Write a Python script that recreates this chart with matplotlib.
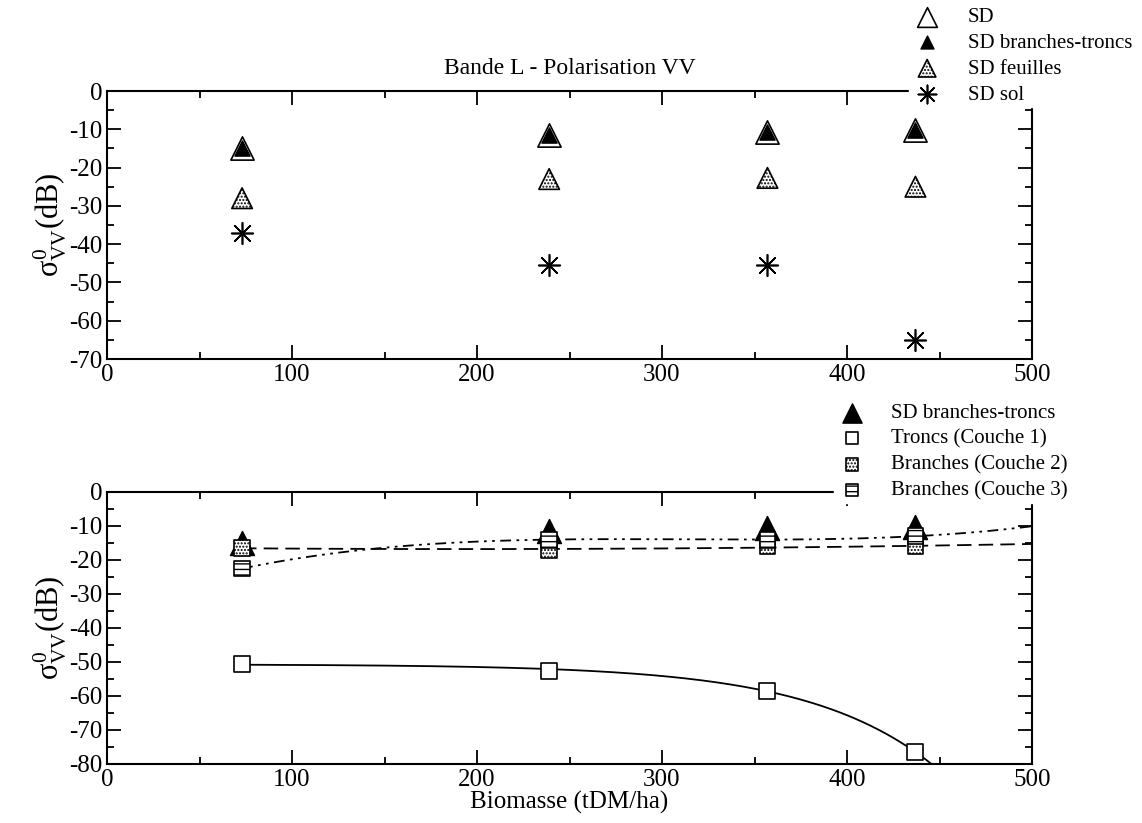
import numpy as np
import matplotlib
matplotlib.use('Agg')
import matplotlib.pyplot as plt
from matplotlib.ticker import MultipleLocator

plt.rcParams['font.family'] = 'Liberation Serif'
plt.rcParams['mathtext.fontset'] = 'custom'
plt.rcParams['mathtext.rm'] = 'Liberation Serif'
plt.rcParams['mathtext.it'] = 'Liberation Serif'
plt.rcParams['axes.unicode_minus'] = False
plt.rcParams['hatch.linewidth'] = 1.0

####################################################################################################
# data

biomasse = [73, 239, 357, 437]

sd_total = [-15.0, -11.5, -10.7, -10.2]
sd_branches_troncs = [-15.0, -11.5, -10.7, -10.2]
sd_feuilles = [-28.0, -23.0, -22.7, -25.0]
sd_sol = [-37.0, -45.5, -45.5, -65.0]

troncs_c1 = [-50.5, -52.5, -58.5, -76.5]
branches_c2 = [-16.5, -17.0, -16.0, -16.0]
branches_c3 = [-22.5, -14.0, -14.0, -13.0]

####################################################################################################

W, H = 1142, 823
fig = plt.figure(figsize=(W / 100, H / 100), dpi=100)

def box(x0, x1, y0, y1):
    return [x0 / W, 1 - y1 / H, (x1 - x0) / W, (y1 - y0) / H]

ax1 = fig.add_axes(box(107, 1032, 91, 359))
ax2 = fig.add_axes(box(107, 1032, 492, 764))

def style(ax, ymin, ymax):
    ax.set_xlim(0, 500)
    ax.set_ylim(ymin, ymax)
    ax.xaxis.set_major_locator(MultipleLocator(100))
    ax.xaxis.set_minor_locator(MultipleLocator(50))
    ax.yaxis.set_major_locator(MultipleLocator(10))
    ax.yaxis.set_minor_locator(MultipleLocator(5))
    ax.tick_params(which='both', direction='in', top=True, right=True, labelsize=18, width=1.3)
    ax.tick_params(which='major', length=10)
    ax.tick_params(which='minor', length=5)
    for s in ax.spines.values():
        s.set_linewidth(1.5)

style(ax1, -70, 0)
style(ax2, -80, 0)

ylab = r'$\sigma^{0}_{\rm VV}$(dB)'
ax1.set_ylabel(ylab, fontsize=22, labelpad=0)
ax2.set_ylabel(ylab, fontsize=22, labelpad=0)
ax2.set_xlabel('Biomasse (tDM/ha)', fontsize=18, labelpad=0)
ax1.set_title('Bande L - Polarisation VV', fontsize=17, pad=12)

star = (8, 2, 0)

# ---- top panel
p_sd = ax1.scatter(biomasse, sd_total, marker='^', s=280, facecolor='white', edgecolor='black',
                   linewidth=1.2, zorder=3, label='SD')
p_bt = ax1.scatter(biomasse, sd_branches_troncs, marker='^', s=120, facecolor='black', edgecolor='black',
                   zorder=4, label='SD branches-troncs')
p_fe = ax1.scatter(biomasse, sd_feuilles, marker='^', s=220, facecolor='white', edgecolor='black',
                   hatch='.....', linewidth=1.2, zorder=3, label='SD feuilles')
p_so = ax1.scatter(biomasse, sd_sol, marker=star, s=240, color='black', linewidth=1.2, zorder=3,
                   label='SD sol')

leg1 = ax1.legend(handles=[p_sd, p_bt, p_fe, p_so], loc='upper left',
                  bbox_to_anchor=(899 / W, 1 + 5 / H), bbox_transform=fig.transFigure,
                  frameon=True, framealpha=1, edgecolor='white', fontsize=15, handletextpad=1.2,
                  labelspacing=0.3, borderpad=0.1, handlelength=1.5, scatterpoints=1,
                  markerscale=0.85)
leg1.set_zorder(10)

# ---- bottom panel
xs = np.linspace(biomasse[0], 500, 300)
bx = np.array(biomasse, dtype=float)

# troncs: least squares fit of a + b*exp(x/c), c chosen on a grid
best = None
for c in np.linspace(30, 200, 171):
    A = np.column_stack([np.ones_like(bx), np.exp(bx / c)])
    coef, *_ = np.linalg.lstsq(A, np.array(troncs_c1), rcond=None)
    err = np.sum((A @ coef - troncs_c1) ** 2)
    if best is None or err < best[0]:
        best = (err, c, coef)
_, c_fit, coef_fit = best
fit1 = coef_fit[0] + coef_fit[1] * np.exp(xs / c_fit)

fit2 = np.polyval(np.polyfit(bx, branches_c2, 2), xs)
fit3 = np.polyval(np.polyfit(bx, branches_c3, 3), xs)

ax2.plot(xs, fit1, color='black', lw=1.3, zorder=2)
ax2.plot(xs, fit2, color='black', lw=1.3, ls=(0, (8, 4)), zorder=2)
ax2.plot(xs, fit3, color='black', lw=1.3, ls=(0, (6, 3, 1.5, 3, 1.5, 3)), zorder=2)

q_bt = ax2.scatter(biomasse, sd_branches_troncs, marker='^', s=300, facecolor='black', edgecolor='black',
                   zorder=3, label='SD branches-troncs')
q_c1 = ax2.scatter(biomasse, troncs_c1, marker='s', s=130, facecolor='white', edgecolor='black',
                   linewidth=1.2, zorder=4, label='Troncs (Couche 1)')
q_c2 = ax2.scatter(biomasse, branches_c2, marker='s', s=130, facecolor='white', edgecolor='black',
                   hatch='.....', linewidth=1.2, zorder=4, label='Branches (Couche 2)')
q_c3 = ax2.scatter(biomasse, branches_c3, marker='s', s=130, facecolor='white', edgecolor='black',
                   hatch='---', linewidth=1.2, zorder=4, label='Branches (Couche 3)')

leg2 = ax2.legend(handles=[q_bt, q_c1, q_c2, q_c3], loc='upper left',
                  bbox_to_anchor=(824 / W, 1 - 391 / H), bbox_transform=fig.transFigure,
                  frameon=True, framealpha=1, edgecolor='white', fontsize=15, handletextpad=1.1,
                  labelspacing=0.3, borderpad=0.1, handlelength=1.5, scatterpoints=1,
                  markerscale=0.8)
leg2.set_zorder(10)

fig.savefig('out.png', dpi=100)
